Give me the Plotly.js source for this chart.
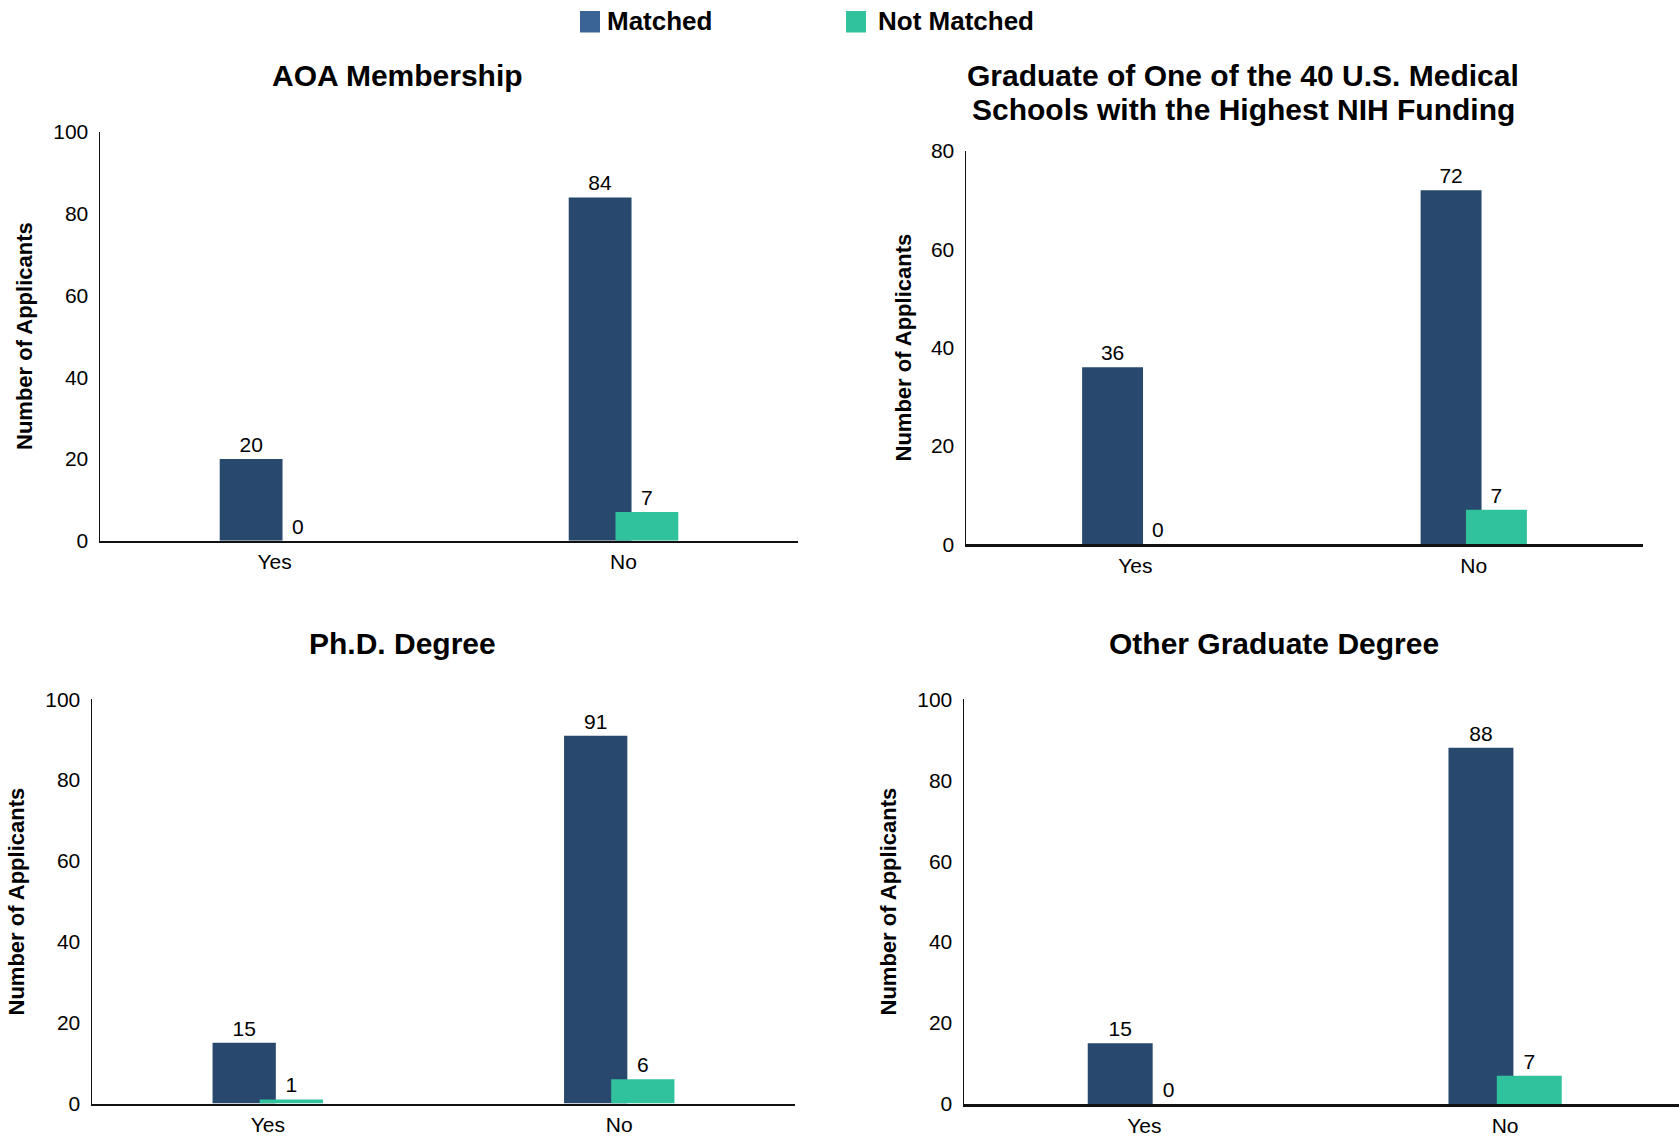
<!DOCTYPE html>
<html>
<head>
<meta charset="utf-8">
<script src="https://cdn.plot.ly/plotly-3.0.1.min.js"></script>
<style>
  html, body { margin: 0; padding: 0; background: #ffffff; }
  #chart { width: 1679px; height: 1138px; }
</style>
</head>
<body>
<div id="chart"></div>
<script>
// ---------- data ----------
const categories = ['Yes', 'No'];
const seriesNames = ['Matched', 'Not Matched'];
const panelTitles = [
  ['AOA Membership'],
  ['Graduate of One of the 40 U.S. Medical', 'Schools with the Highest NIH Funding'],
  ['Ph.D. Degree'],
  ['Other Graduate Degree']
];
const matchedAOA = [20, 84];
const notMatchedAOA = [0, 7];
const matchedNIH = [36, 72];
const notMatchedNIH = [0, 7];
const matchedPhD = [15, 91];
const notMatchedPhD = [1, 6];
const matchedOther = [15, 88];
const notMatchedOther = [0, 7];
const yAxisTitle = 'Number of Applicants';
const yMaxes = [100, 80, 100, 100];

// ---------- styling ----------
const W = 1679, H = 1138;
const FONT = 'Liberation Sans, Arial, Helvetica, sans-serif';
const NAVY = '#29486D';
const GREEN = '#30C19D';
const LEGEND_NAVY = '#3A6496';
const px = v => v / W;
const py = v => 1 - v / H;

const panels = [
  { m: matchedAOA, n: notMatchedAOA, xd: [100, 798], yd: [132, 540.7], xr: [-0.5, 1.5] },
  { m: matchedNIH, n: notMatchedNIH, xd: [966, 1643], yd: [151, 544.2], xr: [-0.5, 1.5] },
  { m: matchedPhD, n: notMatchedPhD, xd: [92, 795], yd: [699.3, 1103.5], xr: [-0.5, 1.5] },
  { m: matchedOther, n: notMatchedOther, xd: [964, 1679], yd: [699.3, 1104], xr: [-0.5, 1.482] }
];

const traces = [];
const layout = {
  width: W, height: H,
  margin: { l: 0, r: 0, t: 0, b: 0 },
  paper_bgcolor: '#ffffff',
  plot_bgcolor: '#ffffff',
  showlegend: false,
  barmode: 'overlay',
  font: { family: FONT, color: '#000000', size: 21 },
  annotations: [],
  shapes: []
};

panels.forEach((p, i) => {
  const k = i === 0 ? '' : String(i + 1);
  const xa = 'x' + k, ya = 'y' + k;
  const common = {
    type: 'bar', x: categories, xaxis: xa, yaxis: ya,
    width: 0.18, textposition: 'outside', texttemplate: '%{y}',
    textfont: { family: FONT, size: 21, color: '#000000' },
    cliponaxis: false, constraintext: 'none', hoverinfo: 'none'
  };
  traces.push(Object.assign({}, common, { name: seriesNames[0], y: p.m, offset: -0.157, marker: { color: NAVY } }));
  traces.push(Object.assign({}, common, { name: seriesNames[1], y: p.n, offset: -0.023, marker: { color: GREEN } }));

  layout['xaxis' + k] = {
    domain: [px(p.xd[0]), px(p.xd[1])], anchor: ya, type: 'category',
    range: p.xr, showline: true, linecolor: '#111111', linewidth: 2.5,
    ticks: '', showgrid: false, zeroline: false, fixedrange: true,
    tickfont: { family: FONT, size: 21, color: '#000000' }, ticklabelstandoff: 1
  };
  layout['yaxis' + k] = {
    domain: [py(p.yd[1]), py(p.yd[0])], anchor: xa,
    range: [0, yMaxes[i]], dtick: 20, showline: true, linecolor: '#111111', linewidth: 1.5,
    ticks: '', showgrid: false, zeroline: false, fixedrange: true,
    tickfont: { family: FONT, size: 21, color: '#000000' }, ticklabelstandoff: 6
  };
});

// subplot titles (one annotation per text line)
const titlePos = [[[397, 76]], [[1243, 76], [1243, 110]], [[402.5, 643.3]], [[1274, 643.3]]];
panelTitles.forEach((lines, i) => {
  lines.forEach((t, j) => {
    layout.annotations.push({
      text: '<b>' + t + '</b>', xref: 'paper', yref: 'paper',
      x: px(titlePos[i][j][0]), y: py(titlePos[i][j][1]), xanchor: 'center', yanchor: 'middle',
      showarrow: false, font: { family: FONT, size: 30, color: '#000000' }
    });
  });
});

// y axis titles
const yTitlePos = [[24.5, 336.5], [903, 347.5], [16, 901.5], [888, 901.5]];
yTitlePos.forEach(pos => {
  layout.annotations.push({
    text: '<b>' + yAxisTitle + '</b>', xref: 'paper', yref: 'paper',
    x: px(pos[0]), y: py(pos[1]), xanchor: 'center', yanchor: 'middle',
    textangle: -90, showarrow: false, font: { family: FONT, size: 22, color: '#000000' }
  });
});

// legend
const legendItems = [
  { name: seriesNames[0], color: LEGEND_NAVY, sq: 580, tx: 605 },
  { name: seriesNames[1], color: GREEN, sq: 846, tx: 876 }
];
legendItems.forEach(it => {
  layout.shapes.push({
    type: 'rect', xref: 'paper', yref: 'paper',
    x0: px(it.sq), x1: px(it.sq + 20), y0: py(32.5), y1: py(11),
    fillcolor: it.color, line: { width: 0 }
  });
  layout.annotations.push({
    text: '<b>' + it.name + '</b>', xref: 'paper', yref: 'paper',
    x: px(it.tx), y: py(21.5), xanchor: 'left', yanchor: 'middle',
    showarrow: false, font: { family: FONT, size: 26, color: '#000000' }
  });
});

Plotly.newPlot('chart', traces, layout, { displayModeBar: false, staticPlot: true });
</script>
</body>
</html>
